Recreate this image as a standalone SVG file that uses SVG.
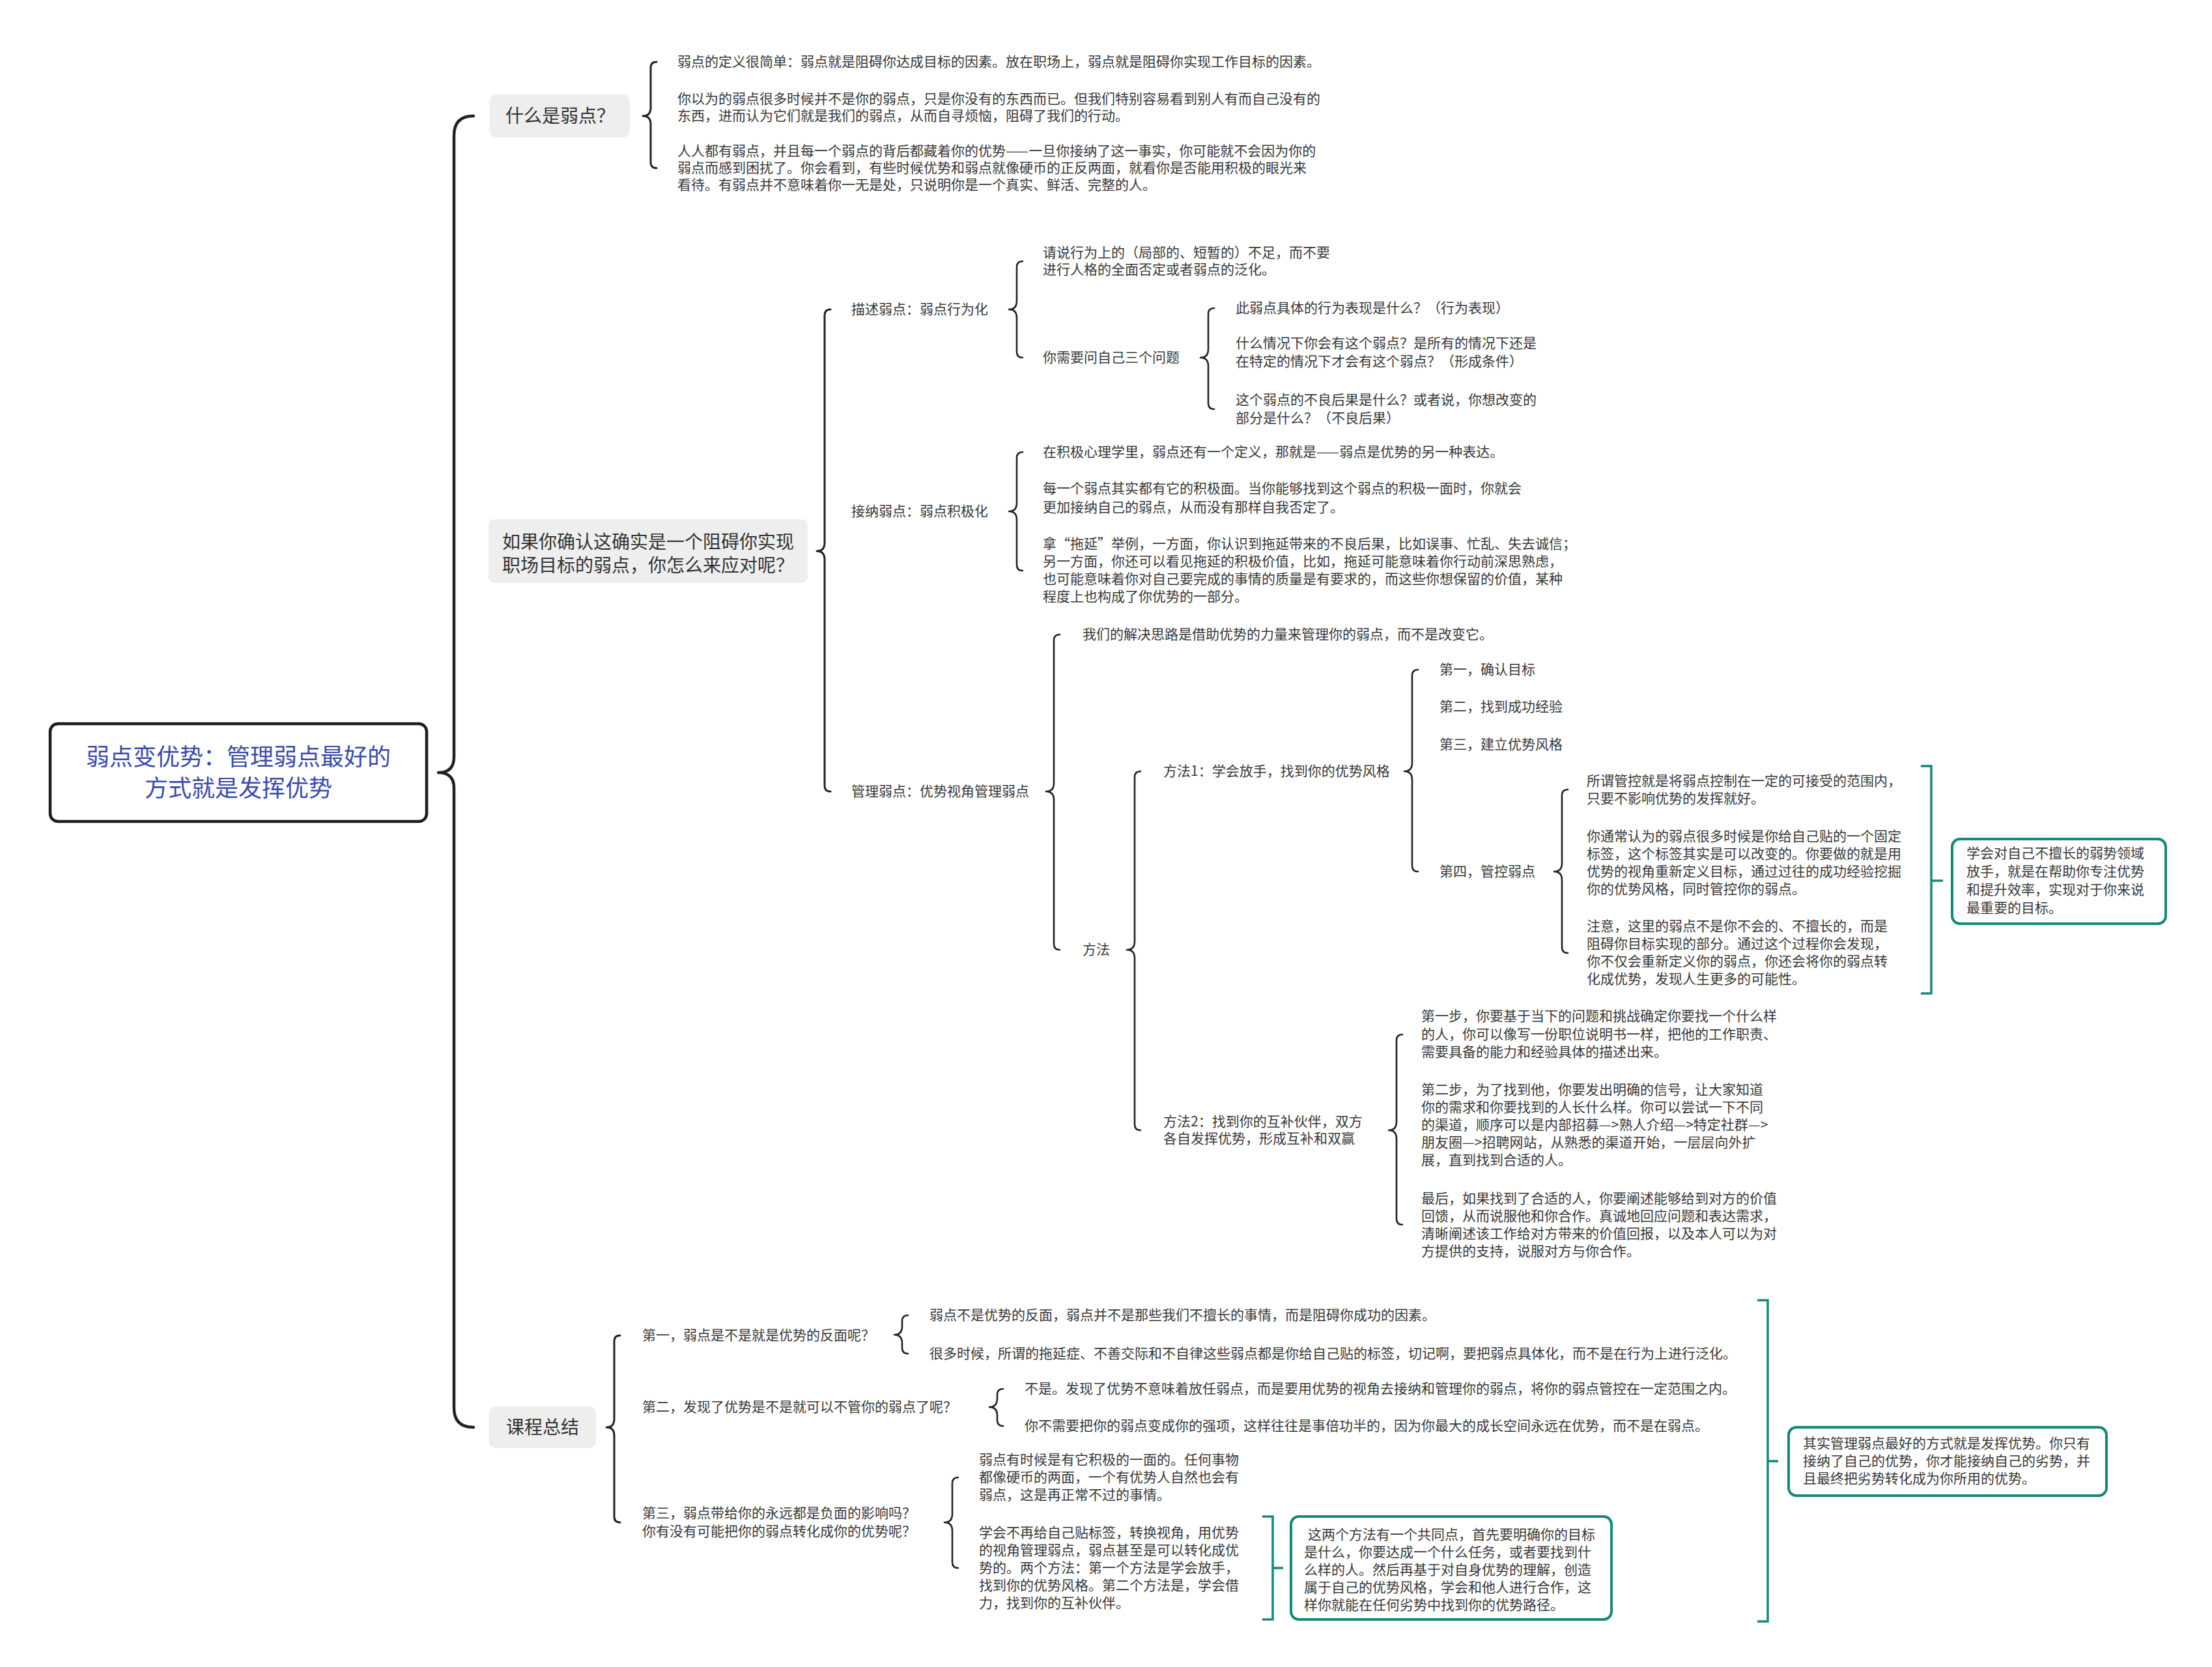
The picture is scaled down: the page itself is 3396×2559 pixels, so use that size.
<svg xmlns="http://www.w3.org/2000/svg" width="3396" height="2559" viewBox="0 0 3396 2559">
<style>
text{font-family:"Noto Sans CJK SC","Noto Sans",sans-serif;font-size:21px;fill:#383838}
.m{font-size:28px;fill:#333}
.r{font-size:36px;fill:#3b4bab;text-anchor:middle}
.c{text-anchor:middle}
.gb{fill:#eeeeee}
.br{fill:none;stroke:#222;stroke-width:2.6;stroke-linecap:round;stroke-linejoin:round}
.b0{stroke-width:4.5}
.b1{stroke-width:3}
.sm{fill:none;stroke:#15897a;stroke-width:3.5}
.sb{fill:#ffffff;stroke:#15897a;stroke-width:4}
</style>
<rect width="3396" height="2559" fill="#ffffff"/>
<g id="connectors">
<path class="br b0" d="M727,178 Q697,178 697,208 L697,1162 Q697,1186 673,1186 Q697,1186 697,1210 L697,2161 Q697,2191 727,2191"/>
<path class="br b1" d="M1008,95 Q999,95 999,104 L999,165 Q999,178 987,178 Q999,178 999,191 L999,249 Q999,258 1008,258"/>
<path class="br b1" d="M1275,475 Q1266,475 1266,484 L1266,833 Q1266,846 1254,846 Q1266,846 1266,859 L1266,1206 Q1266,1215 1275,1215"/>
<path class="br" d="M1570,401 Q1561,401 1561,410 L1561,462 Q1561,475 1549,475 Q1561,475 1561,488 L1561,540 Q1561,549 1570,549"/>
<path class="br" d="M1864,473 Q1855,473 1855,482 L1855,536 Q1855,549 1843,549 Q1855,549 1855,562 L1855,619 Q1855,628 1864,628"/>
<path class="br" d="M1570,694 Q1561,694 1561,703 L1561,772 Q1561,785 1549,785 Q1561,785 1561,798 L1561,867 Q1561,876 1570,876"/>
<path class="br" d="M1627,974 Q1618,974 1618,983 L1618,1202 Q1618,1215 1606,1215 Q1618,1215 1618,1228 L1618,1449 Q1618,1458 1627,1458"/>
<path class="br" d="M1751,1184 Q1742,1184 1742,1193 L1742,1445 Q1742,1458 1730,1458 Q1742,1458 1742,1471 L1742,1726 Q1742,1735 1751,1735"/>
<path class="br" d="M2177,1028 Q2168,1028 2168,1037 L2168,1171 Q2168,1184 2156,1184 Q2168,1184 2168,1197 L2168,1329 Q2168,1338 2177,1338"/>
<path class="br" d="M2407,1212 Q2398,1212 2398,1221 L2398,1325 Q2398,1338 2386,1338 Q2398,1338 2398,1351 L2398,1454 Q2398,1463 2407,1463"/>
<path class="br" d="M2153,1588 Q2144,1588 2144,1597 L2144,1722 Q2144,1735 2132,1735 Q2144,1735 2144,1748 L2144,1871 Q2144,1880 2153,1880"/>
<path class="br b1" d="M952,2050 Q943,2050 943,2059 L943,2178 Q943,2191 931,2191 Q943,2191 943,2204 L943,2328 Q943,2337 952,2337"/>
<path class="br" d="M1394,2019 Q1385,2019 1385,2028 L1385,2036 Q1385,2049 1373,2049 Q1385,2049 1385,2062 L1385,2069 Q1385,2078 1394,2078"/>
<path class="br" d="M1540,2132 Q1531,2132 1531,2141 L1531,2147 Q1531,2160 1519,2160 Q1531,2160 1531,2173 L1531,2180 Q1531,2189 1540,2189"/>
<path class="br" d="M1471,2268 Q1462,2268 1462,2277 L1462,2324 Q1462,2337 1450,2337 Q1462,2337 1462,2350 L1462,2398 Q1462,2407 1471,2407"/>
<path class="sm" d="M2949,1176 L2965,1176 L2965,1525 L2949,1525 M2965,1352 L2983,1352"/>
<path class="sm" d="M1938,2328 L1954,2328 L1954,2486 L1938,2486 M1954,2407 L1970,2407"/>
<path class="sm" d="M2698,1996 L2714,1996 L2714,2489 L2698,2489 M2714,2243 L2730,2243"/>
</g>
<g id="root">
<rect x="77" y="1111" width="578" height="150" rx="12" fill="#ffffff" stroke="#1c1c1c" stroke-width="4.5"/>
<text class="r" x="366" y="1175">弱点变优势：管理弱点最好的</text>
<text class="r" x="366" y="1223">方式就是发挥优势</text>
</g>
<g id="n-what">
<rect class="gb" x="752" y="145" width="215" height="66" rx="10"/>
<text class="m c" x="860" y="188">什么是弱点？</text>
</g>
<g id="n-what-1"><text x="1040" y="102">弱点的定义很简单：弱点就是阻碍你达成目标的因素。放在职场上，弱点就是阻碍你实现工作目标的因素。</text></g>
<g id="n-what-2"><text x="1040" y="159">你以为的弱点很多时候并不是你的弱点，只是你没有的东西而已。但我们特别容易看到别人有而自己没有的</text><text x="1040" y="185">东西，进而认为它们就是我们的弱点，从而自寻烦恼，阻碍了我们的行动。</text></g>
<g id="n-what-3"><text x="1040" y="239">人人都有弱点，并且每一个弱点的背后都藏着你的优势——一旦你接纳了这一事实，你可能就不会因为你的</text><text x="1040" y="265">弱点而感到困扰了。你会看到，有些时候优势和弱点就像硬币的正反两面，就看你是否能用积极的眼光来</text><text x="1040" y="291">看待。有弱点并不意味着你一无是处，只说明你是一个真实、鲜活、完整的人。</text></g>
<g id="n-how">
<rect class="gb" x="750" y="797" width="490" height="98" rx="10"/>
<text class="m c" x="995" y="842">如果你确认这确实是一个阻碍你实现</text>
<text class="m c" x="995" y="878">职场目标的弱点，你怎么来应对呢？</text>
</g>
<g id="n-describe"><text x="1307" y="482">描述弱点：弱点行为化</text></g>
<g id="n-describe-1"><text x="1601" y="395">请说行为上的（局部的、短暂的）不足，而不要</text><text x="1601" y="421">进行人格的全面否定或者弱点的泛化。</text></g>
<g id="n-describe-2"><text x="1601" y="556">你需要问自己三个问题</text></g>
<g id="n-q1"><text x="1897" y="480">此弱点具体的行为表现是什么？（行为表现）</text></g>
<g id="n-q2"><text x="1897" y="534">什么情况下你会有这个弱点？是所有的情况下还是</text><text x="1897" y="562">在特定的情况下才会有这个弱点？（形成条件）</text></g>
<g id="n-q3"><text x="1897" y="621">这个弱点的不良后果是什么？或者说，你想改变的</text><text x="1897" y="649">部分是什么？（不良后果）</text></g>
<g id="n-accept"><text x="1307" y="792">接纳弱点：弱点积极化</text></g>
<g id="n-accept-1"><text x="1601" y="701">在积极心理学里，弱点还有一个定义，那就是——弱点是优势的另一种表达。</text></g>
<g id="n-accept-2"><text x="1601" y="757">每一个弱点其实都有它的积极面。当你能够找到这个弱点的积极一面时，你就会</text><text x="1601" y="786">更加接纳自己的弱点，从而没有那样自我否定了。</text></g>
<g id="n-accept-3"><text x="1601" y="842">拿“拖延”举例，一方面，你认识到拖延带来的不良后果，比如误事、忙乱、失去诚信；</text><text x="1601" y="869">另一方面，你还可以看见拖延的积极价值，比如，拖延可能意味着你行动前深思熟虑，</text><text x="1601" y="896">也可能意味着你对自己要完成的事情的质量是有要求的，而这些你想保留的价值，某种</text><text x="1601" y="923">程度上也构成了你优势的一部分。</text></g>
<g id="n-manage"><text x="1307" y="1222">管理弱点：优势视角管理弱点</text></g>
<g id="n-manage-1"><text x="1662" y="981">我们的解决思路是借助优势的力量来管理你的弱点，而不是改变它。</text></g>
<g id="n-method"><text x="1662" y="1465">方法</text></g>
<g id="n-m1"><text x="1786" y="1191">方法1：学会放手，找到你的优势风格</text></g>
<g id="n-m1-1"><text x="2210" y="1035">第一，确认目标</text></g>
<g id="n-m1-2"><text x="2210" y="1092">第二，找到成功经验</text></g>
<g id="n-m1-3"><text x="2210" y="1150">第三，建立优势风格</text></g>
<g id="n-m1-4"><text x="2210" y="1345">第四，管控弱点</text></g>
<g id="n-m1-4a"><text x="2436" y="1206">所谓管控就是将弱点控制在一定的可接受的范围内，</text><text x="2436" y="1233">只要不影响优势的发挥就好。</text></g>
<g id="n-m1-4b"><text x="2436" y="1291">你通常认为的弱点很多时候是你给自己贴的一个固定</text><text x="2436" y="1318">标签，这个标签其实是可以改变的。你要做的就是用</text><text x="2436" y="1345">优势的视角重新定义目标，通过过往的成功经验挖掘</text><text x="2436" y="1372">你的优势风格，同时管控你的弱点。</text></g>
<g id="n-m1-4c"><text x="2436" y="1429">注意，这里的弱点不是你不会的、不擅长的，而是</text><text x="2436" y="1456">阻碍你目标实现的部分。通过这个过程你会发现，</text><text x="2436" y="1483">你不仅会重新定义你的弱点，你还会将你的弱点转</text><text x="2436" y="1510">化成优势，发现人生更多的可能性。</text></g>
<g id="n-summary-1">
<rect class="sb" x="2997" y="1288" width="328" height="130" rx="12"/>
<text x="3019" y="1317">学会对自己不擅长的弱势领域</text><text x="3019" y="1345">放手，就是在帮助你专注优势</text><text x="3019" y="1373">和提升效率，实现对于你来说</text><text x="3019" y="1401">最重要的目标。</text>
</g>
<g id="n-m2"><text x="1786" y="1729">方法2：找到你的互补伙伴，双方</text><text x="1786" y="1755">各自发挥优势，形成互补和双赢</text></g>
<g id="n-m2-1"><text x="2182" y="1567">第一步，你要基于当下的问题和挑战确定你要找一个什么样</text><text x="2182" y="1595">的人，你可以像写一份职位说明书一样，把他的工作职责、</text><text x="2182" y="1622">需要具备的能力和经验具体的描述出来。</text></g>
<g id="n-m2-2"><text x="2182" y="1680">第二步，为了找到他，你要发出明确的信号，让大家知道</text><text x="2182" y="1707">你的需求和你要找到的人长什么样。你可以尝试一下不同</text><text x="2182" y="1734">的渠道，顺序可以是内部招募—&gt;熟人介绍—&gt;特定社群—&gt;</text><text x="2182" y="1761">朋友圈—&gt;招聘网站，从熟悉的渠道开始，一层层向外扩</text><text x="2182" y="1788">展，直到找到合适的人。</text></g>
<g id="n-m2-3"><text x="2182" y="1847">最后，如果找到了合适的人，你要阐述能够给到对方的价值</text><text x="2182" y="1874">回馈，从而说服他和你合作。真诚地回应问题和表达需求，</text><text x="2182" y="1901">清晰阐述该工作给对方带来的价值回报，以及本人可以为对</text><text x="2182" y="1928">方提供的支持，说服对方与你合作。</text></g>
<g id="n-course">
<rect class="gb" x="751" y="2159" width="164" height="64" rx="10"/>
<text class="m c" x="833" y="2201">课程总结</text>
</g>
<g id="n-c1"><text x="986" y="2057">第一，弱点是不是就是优势的反面呢？</text></g>
<g id="n-c1-1"><text x="1427" y="2026">弱点不是优势的反面，弱点并不是那些我们不擅长的事情，而是阻碍你成功的因素。</text></g>
<g id="n-c1-2"><text x="1427" y="2085">很多时候，所谓的拖延症、不善交际和不自律这些弱点都是你给自己贴的标签，切记啊，要把弱点具体化，而不是在行为上进行泛化。</text></g>
<g id="n-c2"><text x="986" y="2167">第二，发现了优势是不是就可以不管你的弱点了呢？</text></g>
<g id="n-c2-1"><text x="1573" y="2139">不是。发现了优势不意味着放任弱点，而是要用优势的视角去接纳和管理你的弱点，将你的弱点管控在一定范围之内。</text></g>
<g id="n-c2-2"><text x="1573" y="2196">你不需要把你的弱点变成你的强项，这样往往是事倍功半的，因为你最大的成长空间永远在优势，而不是在弱点。</text></g>
<g id="n-c3"><text x="986" y="2330">第三，弱点带给你的永远都是负面的影响吗？</text><text x="986" y="2358">你有没有可能把你的弱点转化成你的优势呢？</text></g>
<g id="n-c3-1"><text x="1503" y="2248">弱点有时候是有它积极的一面的。任何事物</text><text x="1503" y="2275">都像硬币的两面，一个有优势人自然也会有</text><text x="1503" y="2302">弱点，这是再正常不过的事情。</text></g>
<g id="n-c3-2"><text x="1503" y="2360">学会不再给自己贴标签，转换视角，用优势</text><text x="1503" y="2387">的视角管理弱点，弱点甚至是可以转化成优</text><text x="1503" y="2414">势的。两个方法：第一个方法是学会放手，</text><text x="1503" y="2441">找到你的优势风格。第二个方法是，学会借</text><text x="1503" y="2468">力，找到你的互补伙伴。</text></g>
<g id="n-summary-2">
<rect class="sb" x="1982" y="2328" width="492" height="158" rx="12"/>
<text x="2008" y="2363">这两个方法有一个共同点，首先要明确你的目标</text><text x="2002" y="2390">是什么，你要达成一个什么任务，或者要找到什</text><text x="2002" y="2417">么样的人。然后再基于对自身优势的理解，创造</text><text x="2002" y="2444">属于自己的优势风格，学会和他人进行合作，这</text><text x="2002" y="2471">样你就能在任何劣势中找到你的优势路径。</text>
</g>
<g id="n-summary-3">
<rect class="sb" x="2746" y="2191" width="488" height="105" rx="12"/>
<text x="2768" y="2223">其实管理弱点最好的方式就是发挥优势。你只有</text><text x="2768" y="2250">接纳了自己的优势，你才能接纳自己的劣势，并</text><text x="2768" y="2277">且最终把劣势转化成为你所用的优势。</text>
</g>
</svg>
